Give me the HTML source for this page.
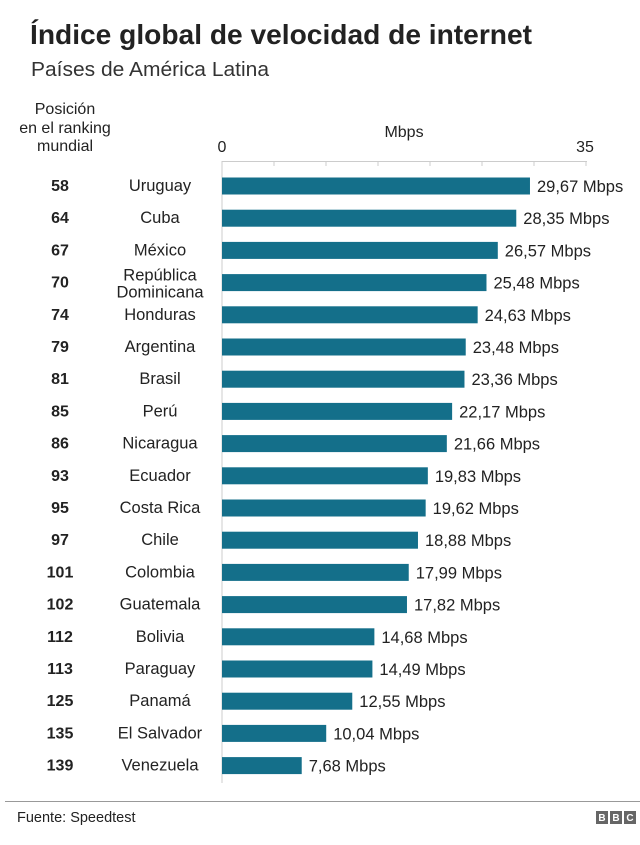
<!DOCTYPE html>
<html><head><meta charset="utf-8"><style>
body{margin:0;background:#fff;width:640px;height:840px;overflow:hidden;font-family:"Liberation Sans",Arial,sans-serif;}
</style></head><body>
<svg width="640" height="840" xmlns="http://www.w3.org/2000/svg" font-family="Liberation Sans, Arial, sans-serif">
<text x="30" y="44" font-size="28" font-weight="bold" fill="#222" textLength="502" lengthAdjust="spacingAndGlyphs">Índice global de velocidad de internet</text>
<text x="31" y="76" font-size="20" fill="#333" textLength="238" lengthAdjust="spacingAndGlyphs">Países de América Latina</text>
<g font-size="16" fill="#222" text-anchor="middle">
<text x="65" y="114">Posición</text>
<text x="65" y="133">en el ranking</text>
<text x="65" y="151">mundial</text>
<text x="404" y="137">Mbps</text>
<text x="222" y="152">0</text>
<text x="585" y="152">35</text>
</g>
<line x1="222" y1="161.5" x2="587" y2="161.5" stroke="#ccc"/>
<g stroke="#ccc">
<line x1="222" y1="161" x2="222" y2="783"/>
<line x1="274" y1="161" x2="274" y2="166"/>
<line x1="326" y1="161" x2="326" y2="166"/>
<line x1="378" y1="161" x2="378" y2="166"/>
<line x1="430" y1="161" x2="430" y2="166"/>
<line x1="482" y1="161" x2="482" y2="166"/>
<line x1="534" y1="161" x2="534" y2="166"/>
<line x1="586" y1="161" x2="586" y2="166"/>
</g>
<g id="rows" font-size="16.5" fill="#222"></g>
<line x1="5" y1="801.5" x2="640" y2="801.5" stroke="#999"/>
<text x="17" y="822" font-size="14.5" fill="#222">Fuente: Speedtest</text>
<g font-size="10" font-weight="bold" fill="#fff" text-anchor="middle">
<rect x="596" y="811" width="12" height="13" fill="#666"/><text x="602" y="821">B</text>
<rect x="610" y="811" width="12" height="13" fill="#666"/><text x="616" y="821">B</text>
<rect x="624" y="811" width="12" height="13" fill="#666"/><text x="630" y="821">C</text>
</g>
</svg>
<script>
var d=[[58,"Uruguay",29.67],[64,"Cuba",28.35],[67,"México",26.57],[70,"República|Dominicana",25.48],[74,"Honduras",24.63],[79,"Argentina",23.48],[81,"Brasil",23.36],[85,"Perú",22.17],[86,"Nicaragua",21.66],[93,"Ecuador",19.83],[95,"Costa Rica",19.62],[97,"Chile",18.88],[101,"Colombia",17.99],[102,"Guatemala",17.82],[112,"Bolivia",14.68],[113,"Paraguay",14.49],[125,"Panamá",12.55],[135,"El Salvador",10.04],[139,"Venezuela",7.68]];
var s="";
d.forEach(function(r,i){var c=186+32.2*i;var w=r[2]*10.38;
s+='<text x="60" y="'+(c+5)+'" text-anchor="middle" font-weight="bold" font-size="16">'+r[0]+'</text>';
if(r[1].indexOf("|")>=0){var p=r[1].split("|");s+='<text x="160" y="'+(c-2)+'" text-anchor="middle">'+p[0]+'</text><text x="160" y="'+(c+15)+'" text-anchor="middle">'+p[1]+'</text>';}
else s+='<text x="160" y="'+(c+5)+'" text-anchor="middle">'+r[1]+'</text>';
s+='<rect x="222" y="'+(c-8.5)+'" width="'+w+'" height="17" fill="#146f8a"/>';
s+='<text x="'+(222+w+7)+'" y="'+(c+6)+'">'+r[2].toFixed(2).replace(".",",")+' Mbps</text>';});
document.getElementById("rows").innerHTML=s;
</script>
</body></html>
